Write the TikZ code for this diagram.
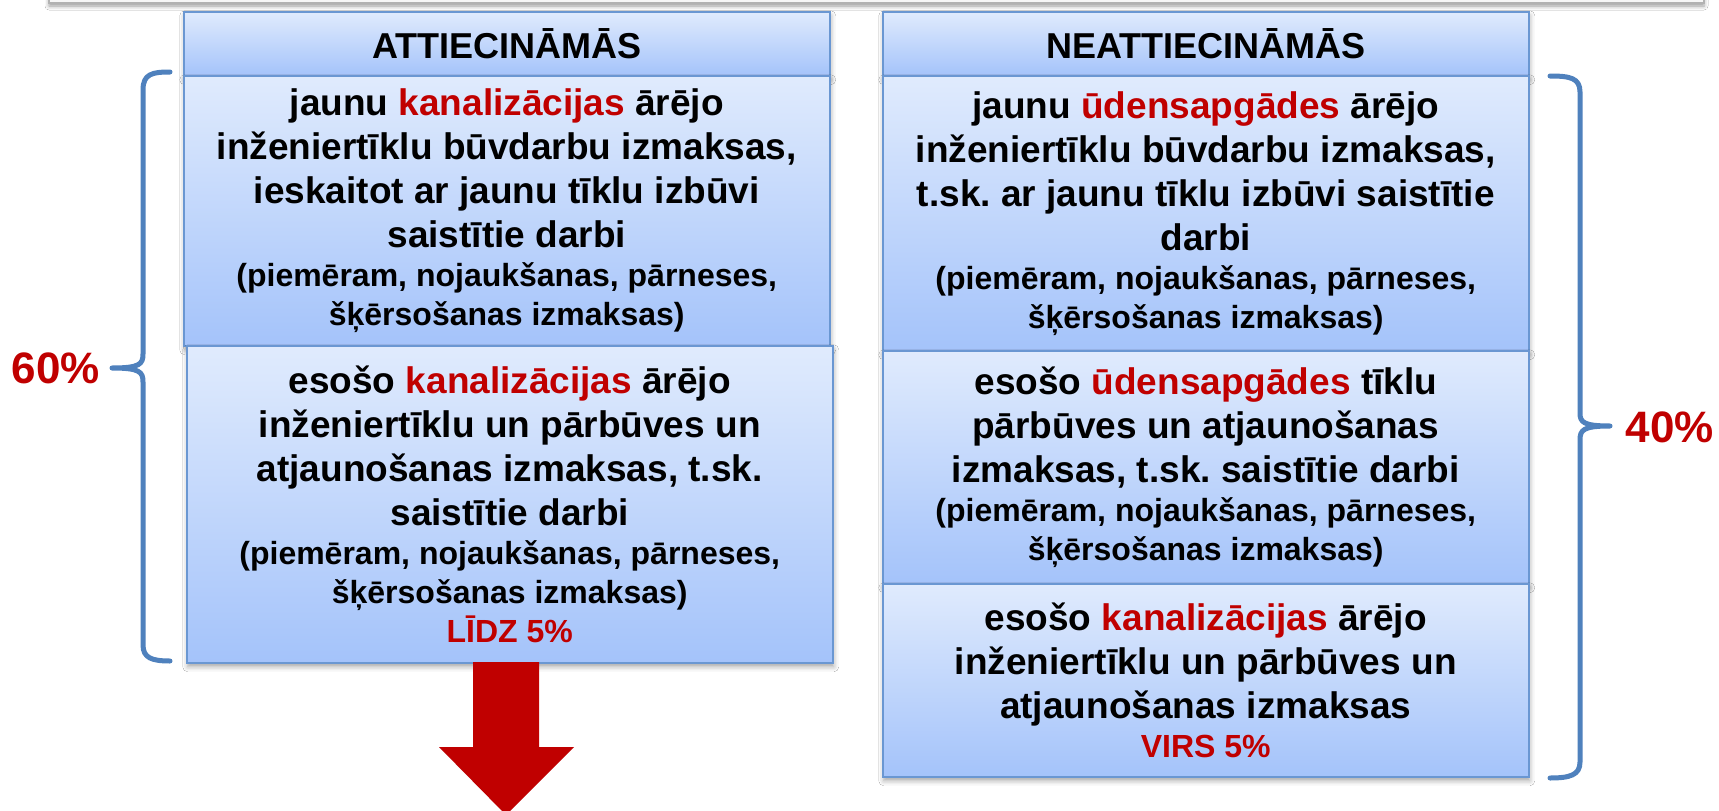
\documentclass[tikz,border=0pt]{standalone}
\usepackage{fontspec}
\setmainfont{Liberation Sans}
\usetikzlibrary{shadows.blur}
\definecolor{hl}{HTML}{C00000}
\definecolor{bx}{HTML}{6A97D2}
\definecolor{btop}{HTML}{E0EBFD}
\definecolor{bbot}{HTML}{A4C3FA}
\definecolor{brc}{HTML}{4F81BD}
\newcommand{\hlr}[1]{\textcolor{hl}{#1}}
\newcommand{\txtbig}{\fontsize{37}{44}\selectfont\bfseries\spaceskip=.278em\xspaceskip=.278em\relax}
\newcommand{\txtsmall}{\fontsize{32}{39}\selectfont\bfseries\spaceskip=.278em\xspaceskip=.278em\relax}
\begin{document}
\begin{tikzpicture}[x=1pt,y=-1pt,
  cell/.style={draw=bx, line width=1.5pt, top color=btop, bottom color=bbot,
    align=center, text width=630pt, inner xsep=8pt, inner ysep=0pt,
    minimum width=646pt, anchor=north west,
    blur shadow={shadow xshift=1pt, shadow yshift=-4pt, shadow blur radius=5pt, shadow opacity=35}},
  head/.style={cell, font=\fontsize{36}{43}\selectfont\bfseries, minimum height=64pt},
  brace/.style={draw=brc, line width=5pt, line cap=round, line join=round},
  pct/.style={text=hl, font=\fontsize{44}{50}\selectfont\bfseries, inner sep=0pt}]
\useasboundingbox (0,0) rectangle (1719,811);
\clip (0,0) rectangle (1719,811);
\fill[white] (0,0) rectangle (1719,811);
% top bar
\draw[draw=gray!60, fill=gray!6, line width=1.2pt,
  blur shadow={shadow xshift=0pt, shadow yshift=-3pt, shadow blur radius=4pt, shadow opacity=40}]
  (49,-40) rectangle (1704,3);
% left column
\node[head] (lh) at (183,11) {ATTIECINĀMĀS};
\node[cell, minimum height=270pt] (lb1) at (183,75) {%
  {\txtbig jaunu \hlr{kanalizācijas} ārējo\\ inženiertīklu būvdarbu izmaksas,\\ ieskaitot ar jaunu tīklu izbūvi\\ saistītie darbi\par}%
  {\txtsmall (piemēram, nojaukšanas, pārneses,\\ šķērsošanas izmaksas)\par}};
\node[cell, minimum height=317pt] (lb2) at (186,345) {%
  {\txtbig esošo \hlr{kanalizācijas} ārējo\\ inženiertīklu un pārbūves un\\ atjaunošanas izmaksas, t.sk.\\ saistītie darbi\par}%
  {\txtsmall (piemēram, nojaukšanas, pārneses,\\ šķērsošanas izmaksas)\\ \hlr{LĪDZ 5\%}\par}};
% right column
\node[head] (rh) at (882,11) {NEATTIECINĀMĀS};
\node[cell, minimum height=275pt] (rb1) at (882,75) {%
  {\txtbig jaunu \hlr{ūdensapgādes} ārējo\\ inženiertīklu būvdarbu izmaksas,\\ t.sk. ar jaunu tīklu izbūvi saistītie\\ darbi\par}%
  {\txtsmall (piemēram, nojaukšanas, pārneses,\\ šķērsošanas izmaksas)\par}};
\node[cell, minimum height=233pt] (rb2) at (882,350) {%
  {\txtbig esošo \hlr{ūdensapgādes} tīklu\\ pārbūves un atjaunošanas\\ izmaksas, t.sk. saistītie darbi\par}%
  {\txtsmall (piemēram, nojaukšanas, pārneses,\\ šķērsošanas izmaksas)\par}};
\node[cell, minimum height=193pt] (rb3) at (882,583) {%
  {\txtbig esošo \hlr{kanalizācijas} ārējo\\ inženiertīklu un pārbūves un\\ atjaunošanas izmaksas\par}%
  {\txtsmall \hlr{VIRS 5\%}\par}};
% braces
\draw[brace] (170,72) .. controls (152,72) and (143,74) .. (143,90) -- (143,354)
  .. controls (143,364) and (140,368) .. (112,368)
  .. controls (140,368) and (143,372) .. (143,382) -- (143,645)
  .. controls (143,658) and (152,661) .. (170,661);
\draw[brace] (1550,76) .. controls (1570,76) and (1580,78) .. (1580,92) -- (1580,413)
  .. controls (1580,422) and (1583,426) .. (1610,426)
  .. controls (1583,426) and (1580,430) .. (1580,440) -- (1580,762)
  .. controls (1580,775) and (1570,778) .. (1550,778);
\node[pct] (pl) at (56,368) {60\%};
\node[pct] (pr) at (1670,427) {40\%};
% red arrow
\fill[hl] (473,662) -- (539,662) -- (539,747) -- (574,747) -- (506,815)
  -- (439,747) -- (473,747) -- cycle;
\end{tikzpicture}
\end{document}
